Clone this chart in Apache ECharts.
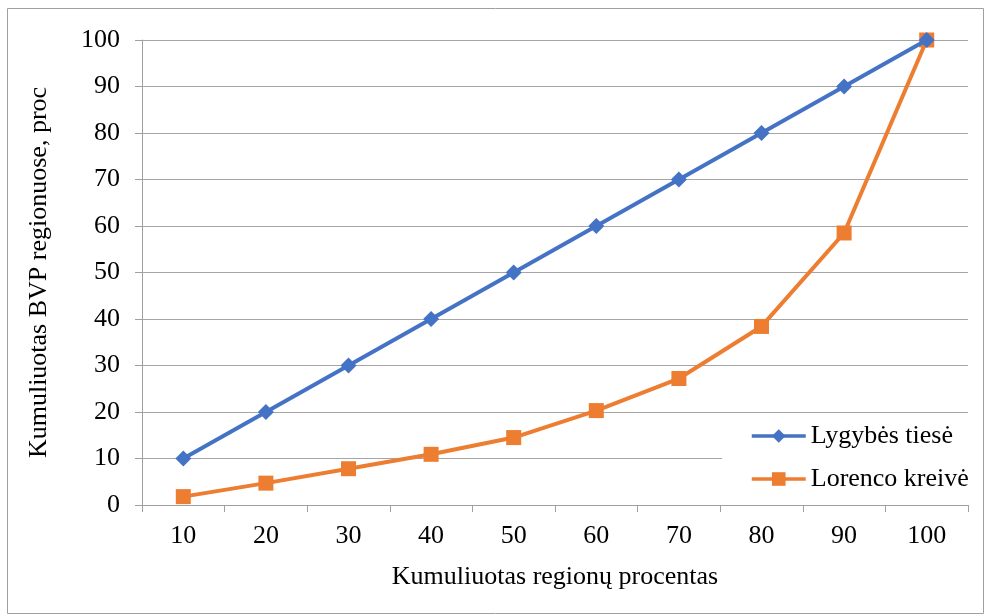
<!DOCTYPE html>
<html>
<head>
<meta charset="utf-8">
<script src="https://cdn.jsdelivr.net/npm/echarts@6/dist/echarts.min.js"></script>
<style>html,body{margin:0;padding:0;background:#fff}#c{width:986px;height:616px}</style>
</head>
<body>
<div id="c"></div>
<script>
const categories = ['10','20','30','40','50','60','70','80','90','100'];
const equalityLine = [10,20,30,40,50,60,70,80,90,100];
const lorenzCurve = [1.8,4.7,7.8,10.9,14.5,20.3,27.2,38.4,58.5,100];
const seriesNames = ['Lygybės tiesė','Lorenco kreivė'];
const xAxisTitle = 'Kumuliuotas regionų procentas';
const yAxisTitle = 'Kumuliuotas BVP regionuose, proc';

const font = 'Liberation Serif, Times New Roman, serif';
const chart = echarts.init(document.getElementById('c'), null, {renderer:'canvas'});
chart.setOption({
  animation:false,
  backgroundColor:'#fff',
  textStyle:{fontFamily:font,color:'#000'},
  graphic:[{type:'rect',shape:{x:7.5,y:8.5,width:976,height:605},style:{fill:'none',stroke:'#a0a0a0',lineWidth:1},z:-1}],
  grid:{left:142,right:18,top:40,bottom:111,containLabel:false},
  legend:{
    orient:'vertical',left:722,top:415,
    backgroundColor:'#fff',padding:[8,10,8,28],
    itemWidth:54,itemHeight:17,itemGap:17,
    textStyle:{fontFamily:font,fontSize:26,color:'#000'},
    lineStyle:{width:3.5},
    data:seriesNames
  },
  xAxis:{
    type:'category',data:categories,boundaryGap:true,
    name:xAxisTitle,nameLocation:'middle',nameGap:59,
    nameTextStyle:{fontFamily:font,fontSize:26,color:'#000'},
    axisLine:{lineStyle:{color:'#a0a0a0',width:1}},
    axisTick:{show:true,inside:false,length:7,alignWithLabel:false,lineStyle:{color:'#a0a0a0'}},
    axisLabel:{fontFamily:font,fontSize:26,color:'#000',margin:18}
  },
  yAxis:{
    type:'value',min:0,max:100,interval:10,
    name:yAxisTitle,nameLocation:'middle',nameGap:90,
    nameTextStyle:{fontFamily:font,fontSize:26,color:'#000'},
    axisLine:{show:true,lineStyle:{color:'#a0a0a0',width:1}},
    axisTick:{show:true,inside:false,length:7,lineStyle:{color:'#a0a0a0'}},
    axisLabel:{fontFamily:font,fontSize:26,color:'#000',margin:22},
    splitLine:{show:true,lineStyle:{color:'#a6a6a6',width:1}}
  },
  series:[
    {name:seriesNames[0],type:'line',data:equalityLine,symbol:'diamond',symbolSize:16,
     lineStyle:{color:'#4472C4',width:4},itemStyle:{color:'#4472C4'},z:3},
    {name:seriesNames[1],type:'line',data:lorenzCurve,symbol:'rect',symbolSize:15,
     lineStyle:{color:'#ED7D31',width:4},itemStyle:{color:'#ED7D31'},z:2}
  ]
});
</script>
</body>
</html>
